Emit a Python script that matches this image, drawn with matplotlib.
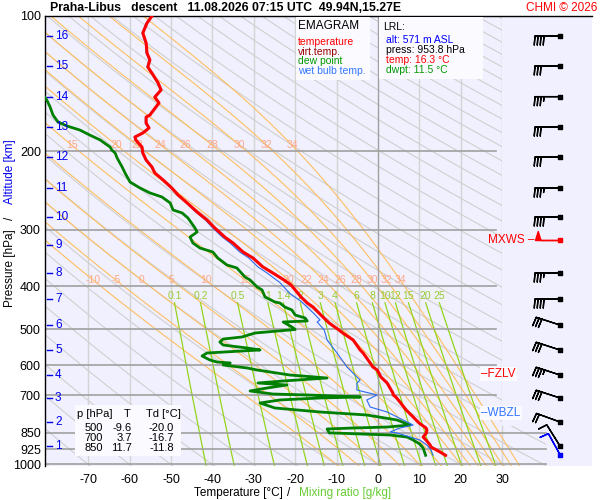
import numpy as np
import matplotlib
matplotlib.use('Agg')
import matplotlib.pyplot as plt
from matplotlib.patches import Polygon, Rectangle

plt.rcParams['font.family'] = ['Liberation Sans', 'DejaVu Sans']

# ---- sounding values ----
temp_p = [100.0, 103.7, 109.1, 114.9, 120.9, 125.3, 129.9, 135.4, 141.1, 146.2,
          151.6, 156.3, 166.3, 168.0, 173.3, 177.7, 182.3, 186.1, 189.0, 196.0,
          202.0, 209.5, 217.1, 223.9, 232.1, 241.8, 250.6, 261.1, 273.5, 285.0,
          297.0, 311.1, 320.8, 335.9, 346.4, 362.7, 374.1, 387.8, 397.9, 408.2,
          423.1, 436.4, 445.5, 469.0, 483.7, 500.0, 509.1, 527.7, 555.5, 564.1,
          606.2, 615.6, 638.1, 658.1, 692.7, 700.0, 707.1, 725.5, 755.9, 783.6,
          808.1, 829.1, 837.6, 850.0, 868.3, 881.9, 904.8, 914.1, 937.9, 953.8]
temp_t = [-54.6, -55.8, -56.8, -56.0, -55.8, -55.1, -55.6, -54.3, -53.1, -52.4,
          -53.9, -52.9, -55.1, -56.0, -56.0, -55.3, -56.8, -58.7, -58.5, -57.0,
          -56.8, -56.0, -54.6, -53.9, -51.9, -49.8, -48.3, -46.1, -43.7, -41.3,
          -39.4, -37.0, -35.0, -32.6, -30.2, -27.8, -25.4, -22.7, -21.0, -20.0,
          -18.6, -17.1, -15.7, -13.3, -11.8, -9.6, -8.5, -6.0, -4.3, -3.6,
          -1.2, -0.2, 0.7, 2.2, 3.6, 3.7, 4.3, 5.3, 6.8, 8.5,
          9.9, 11.6, 11.8, 11.7, 10.9, 11.6, 12.6, 12.8, 15.0, 16.3]

dewp_p = [146.0, 153.9, 159.6, 166.3, 172.3, 175.9, 179.6, 184.3, 189.0, 196.0,
          199.0, 202.0, 207.4, 217.1, 223.9, 234.5, 241.8, 248.0, 253.2, 261.1,
          270.7, 274.9, 282.1, 297.0, 303.1, 311.1, 320.8, 329.1, 335.9, 346.4,
          359.0, 364.6, 382.0, 387.8, 402.0, 408.2, 423.1, 434.2, 436.4, 445.5,
          452.4, 464.2, 471.4, 478.6, 481.1, 493.6, 500.0, 509.1, 519.7, 525.1,
          533.2, 541.5, 549.9, 555.5, 558.4, 564.1, 572.9, 584.8, 590.8, 593.9,
          600.0, 609.3, 615.6, 631.6, 641.4, 651.4, 658.1, 664.9, 675.2, 685.6,
          696.4, 700.0, 707.1, 710.7, 718.0, 729.3, 748.2, 763.7, 775.6, 795.7,
          816.6, 825.0, 829.1, 833.4, 850.0, 859.5, 868.3, 881.9, 900.2, 918.8,
          953.8]
dewp_t = [-82.0, -80.0, -79.2, -78.5, -77.3, -75.1, -72.0, -69.6, -67.1, -64.7,
          -64.3, -63.5, -63.0, -61.8, -61.1, -59.9, -57.5, -55.1, -52.2, -50.2,
          -49.5, -47.3, -45.9, -44.2, -43.7, -45.4, -44.7, -43.0, -39.9, -38.7,
          -36.5, -34.1, -32.1, -30.9, -29.2, -28.0, -27.3, -24.9, -23.7, -22.5,
          -20.8, -20.0, -17.6, -17.1, -22.9, -20.8, -20.0, -29.7, -32.9, -37.4,
          -38.2, -37.4, -31.6, -28.5, -32.9, -41.3, -42.5, -40.6, -38.9, -35.7,
          -37.4, -31.6, -29.2, -21.3, -12.3, -22.9, -29.0, -22.0, -26.8, -30.9,
          -25.4, -16.7, -4.3, -14.0, -23.7, -28.5, -24.9, -14.0, -2.7, 4.6,
          7.7, 2.2, -6.0, -12.3, -11.8, 2.9, 7.0, 8.5, 10.1, 10.9,
          11.5]

wetb_p = [100.0, 103.7, 109.1, 114.9, 120.9, 125.3, 129.9, 135.4, 141.1, 146.2,
          151.6, 156.3, 166.3, 168.0, 173.3, 177.7, 182.3, 186.1, 189.0, 196.0,
          202.0, 209.5, 217.1, 223.9, 232.1, 241.8, 250.6, 261.1, 273.5, 285.0,
          297.0, 311.1, 320.8, 335.9, 346.4, 362.7, 374.1, 393.0, 415.6, 431.0,
          458.6, 476.0, 481.0, 501.0, 527.7, 564.1, 606.2, 638.1, 648.0, 658.1,
          682.2, 699.9, 718.0, 744.4, 763.7, 816.6, 829.1, 846.3, 850.6, 881.9,
          904.8, 928.3, 953.8]
wetb_t = [-54.8, -56.0, -57.0, -56.2, -56.0, -55.3, -55.8, -54.5, -53.3, -52.6,
          -54.1, -53.1, -55.3, -56.2, -56.2, -55.5, -57.0, -58.9, -58.7, -57.2,
          -57.0, -56.2, -54.8, -54.1, -52.1, -50.0, -48.5, -46.3, -44.0, -41.7,
          -39.9, -37.6, -35.7, -33.4, -31.2, -29.0, -26.8, -23.7, -21.3, -18.8,
          -15.7, -14.0, -14.7, -13.0, -12.3, -9.9, -7.5, -5.1, -4.3, -5.1,
          -5.1, -0.2, -2.7, -1.9, 2.2, 8.5, 5.3, 2.9, 4.6, 10.1,
          11.8, 12.8, 13.3]

# altitude marks (km) and the pressure where they sit
alt_km = [16, 15, 14, 13, 12, 11, 10, 9, 8, 7, 6, 5, 4, 3, 2, 1]
alt_p = [110.8, 129.2, 151.3, 176.8, 206.3, 241.8, 280.6, 324.1, 374.1, 427.5,
         488.7, 555.5, 631.6, 710.7, 803.9, 909.5]

# winds
wind_p = [110.8, 129.2, 151.3, 176.8, 206.3, 241.8, 280.6, 374.1, 427.5,
          488.7, 555.5, 631.6, 710.7, 803.9, 909.5]
wind_dir = [270, 270, 270, 270, 270, 270, 270, 270, 270, 288, 288, 288, 288, 290, 328]
wind_kt = [40, 30, 35, 30, 30, 35, 40, 35, 40, 30, 30, 35, 30, 20, 10]
mxws_p, mxws_dir, mxws_kt = 316.0, 270, 50
sfc_p, sfc_dir, sfc_kt = 953.8, 331, 10

# diagram line families
isotherms = list(range(-70, 31, 10))
dry_theta_c = list(range(-80, 331, 10))
moist_tw = [-10, -5, 0, 5, 10, 15, 20, 22, 24, 26, 28, 30, 32, 34]
mix_ratio = [0.1, 0.2, 0.5, 1, 1.4, 2, 3, 4, 6, 8, 10, 12, 15, 20, 25]
p_ticks = [100, 200, 300, 400, 500, 600, 700, 850, 925, 1000]

table_p = ['500', '700', '850']
table_t = ['-9.6', '3.7', '11.7']
table_td = ['-20.0', '-16.7', '-11.8']

W, H = 600, 500


def fx(x):
    return x / W


def fy(y):
    return 1 - y / H


def es(tc):
    return 6.112 * np.exp(17.67 * tc / (tc + 243.5))


def td_from_w(w, p):
    e = w * p / (622.0 + w)
    a = np.log(e / 6.112)
    return 243.5 * a / (17.67 - a)


def dT_dlnp(p, T):
    Rd, cp, Lv, eps = 287.04, 1005.7, 2.501e6, 0.622
    e = es(T - 273.15)
    rs = eps * e / (p - e)
    return (Rd * T + Lv * rs) / (cp + Lv * Lv * rs * eps / (Rd * T * T))


def pseudo_adiabat(tw):
    lp = np.linspace(np.log(1010.0), np.log(100.0), 500)
    T0 = tw + 273.15
    T = T0 + dT_dlnp(1000.0, T0) * (np.log(1010.0) - np.log(1000.0))
    out = [T]
    for i in range(len(lp) - 1):
        h = lp[i + 1] - lp[i]
        p = np.exp(lp[i])
        k1 = dT_dlnp(p, T)
        k2 = dT_dlnp(np.exp(lp[i] + h), T + h * k1)
        T = T + 0.5 * h * (k1 + k2)
        out.append(T)
    return np.exp(lp), np.array(out) - 273.15


fig = plt.figure(figsize=(6, 5), dpi=100)
ax = fig.add_axes([fx(45), fy(466), (592 - 45) / W, (466 - 16) / H])
ax.set_facecolor('#f0f0fe')
ax.set_yscale('log')
T_left = (45 - 378) / 4.14
T_right = (592 - 378) / 4.14
p_bot = 100 * 10 ** (450 / 448.5)
ax.set_xlim(T_left, T_right)
ax.set_ylim(p_bot, 100)

clip = Polygon([(T_left - 1, 95), (30, 95), (30, 820), (40.6, 820), (40.6, 1020), (T_left - 1, 1020)],
               closed=True, transform=ax.transData)

bg = []
for t in isotherms:
    if t == 0:
        continue
    bg += ax.plot([t, t], [100, p_bot], color='#d4d4d4', lw=1.0, zorder=1)

pp = np.logspace(np.log10(100), np.log10(1010), 300)
for th in dry_theta_c:
    tt = (th + 273.15) * (pp / 1000.0) ** 0.2857 - 273.15
    bg += ax.plot(tt, pp, color='#d0d0d0', lw=0.8, zorder=1)

moist_lines = {}
for tw in moist_tw:
    mp, mt = pseudo_adiabat(tw)
    moist_lines[tw] = (mp, mt)
    bg += ax.plot(mt, mp, color='#ffbf60', lw=0.8, zorder=1.2)

pm = np.logspace(np.log10(436), np.log10(1010), 100)
for w in mix_ratio:
    bg += ax.plot(td_from_w(w, pm), pm, color='#94d51a', lw=0.9, zorder=1.3)

for ln in bg:
    ln.set_clip_path(clip)

ax.plot([0, 0], [100, p_bot], color='#a0a0a0', lw=1.0, zorder=1.5)
for p in p_ticks[1:]:
    right = 40.6 if p >= 850 else 28.4
    ax.plot([T_left, right], [p, p], color='#a0a0a0', lw=1.2, zorder=1.5)

# labels of moist adiabats and mixing ratio lines
for tw in moist_tw:
    mp, mt = moist_lines[tw]
    for pl in (388.0, 194.0):
        tl = np.interp(np.log(pl), np.log(mp[::-1]), mt[::-1])
        if tl > T_left + 3 and tl < 36:
            ax.text(tl, pl, str(tw), color='#ffa888', fontsize=7.5,
                    ha='center', va='center', zorder=2)
for w in mix_ratio:
    ax.text(td_from_w(w, 436.0), 420.0, '%g' % w, color='#99cc33', fontsize=7.5,
            ha='center', va='center', zorder=2)

# sounding curves
ax.plot(dewp_t, dewp_p, color='#008000', lw=2.0, zorder=3)
ax.plot(wetb_t, wetb_p, color='#2a6af0', lw=0.8, zorder=3.2)
ax.plot(temp_t, temp_p, color='#ff0000', lw=2.2, zorder=3.4)

# altitude marks
ytr = ax.get_yaxis_transform()
for km, p in zip(alt_km, alt_p):
    ax.plot([2 / 547, 7 / 547], [p, p], color='#0000ee', lw=1.0, transform=ytr, zorder=4)
    ax.text(10 / 547, p, str(km), color='#0000ee', fontsize=8.5, ha='left', va='center',
            transform=ytr, zorder=4)

# winds
xb = (560 - 378) / 4.14
wd = np.radians(wind_dir)
u = -np.array(wind_kt) * np.sin(wd)
v = -np.array(wind_kt) * np.cos(wd)
bsz = dict(height=0.36, spacing=0.12, width=0.06, emptybarb=0.0)
psz = dict(height=0.36, spacing=0.12, width=0.22, emptybarb=0.0)
blen = 6.0
ax.barbs(np.full(len(wind_p), xb), wind_p, u, v, length=blen, sizes=bsz, flip_barb=True,
         lw=1.0, color='black', zorder=5)
ax.scatter(np.full(len(wind_p), xb), wind_p, marker='s', s=6, color='black', zorder=5)
md = np.radians(mxws_dir)
ax.barbs([xb], [mxws_p], [-mxws_kt * np.sin(md)], [-mxws_kt * np.cos(md)], length=blen,
         sizes=psz, flip_barb=False, lw=1.0, color='#ff0000', zorder=5)
ax.scatter([xb], [mxws_p], marker='s', s=6, color='#ff0000', zorder=5)
sd = np.radians(sfc_dir)
ax.barbs([xb], [sfc_p], [-sfc_kt * np.sin(sd)], [-sfc_kt * np.cos(sd)], length=blen,
         sizes=bsz, flip_barb=True, lw=1.0, color='#0000ff', zorder=5)
ax.scatter([xb], [sfc_p], marker='s', s=6, color='#0000ff', zorder=5)

# axes cosmetics
for s in ('right', 'bottom'):
    ax.spines[s].set_visible(False)
ax.spines['left'].set_linewidth(1.0)
ax.spines['top'].set_linewidth(1.0)
ax.set_yticks(p_ticks)
ax.set_yticklabels([str(p) for p in p_ticks])
ax.yaxis.set_minor_locator(matplotlib.ticker.NullLocator())
ax.set_xticks(isotherms)
ax.set_xticklabels([str(t) for t in isotherms])
ax.tick_params(axis='both', length=0, labelsize=9)
ax.tick_params(axis='x', pad=6)
ax.tick_params(axis='y', pad=3)

# boxes
def box(x0, y0, x1, y1, color='#fafaff', z=2.6):
    ax.add_patch(Rectangle((fx(x0), fy(y1)), (x1 - x0) / W, (y1 - y0) / H,
                           transform=fig.transFigure, facecolor=color,
                           edgecolor='none', zorder=z))

box(296, 17, 370, 80)
box(379, 17, 483, 79)
box(75, 405, 181, 456)

fig.text(fx(298), fy(26), 'EMAGRAM', fontsize=8.5, va='center')
fig.text(fx(298), fy(42), 'temperature', fontsize=7.5, color='#ff0000', va='center')
fig.text(fx(298), fy(52), 'virt.temp.', fontsize=7.5, color='#990000', va='center')
fig.text(fx(298), fy(61), 'dew point', fontsize=7.5, color='#009900', va='center')
fig.text(fx(298), fy(71), 'wet bulb temp.', fontsize=7.5, color='#3377ff', va='center')

fig.text(fx(383), fy(27), 'LRL:', fontsize=7.5, va='center')
fig.text(fx(386), fy(40), 'alt: 571 m ASL', fontsize=7.5, color='#0000ff', va='center')
fig.text(fx(386), fy(50), 'press: 953.8 hPa', fontsize=7.5, color='black', va='center')
fig.text(fx(386), fy(60), 'temp: 16.3 °C', fontsize=7.5, color='#ff0000', va='center')
fig.text(fx(386), fy(70), 'dwpt: 11.5 °C', fontsize=7.5, color='#009900', va='center')

fig.text(fx(95), fy(414), 'p [hPa]', fontsize=8, ha='center', va='center')
fig.text(fx(127), fy(414), 'T', fontsize=8, ha='center', va='center')
fig.text(fx(163), fy(414), 'Td [°C]', fontsize=8, ha='center', va='center')
for i in range(3):
    yy = 428 + 10 * i
    fig.text(fx(94), fy(yy), table_p[i], fontsize=8, ha='center', va='center')
    fig.text(fx(132), fy(yy), table_t[i], fontsize=8, ha='right', va='center')
    fig.text(fx(174), fy(yy), table_td[i], fontsize=8, ha='right', va='center')

lb = dict(facecolor='#fafaff', edgecolor='none', pad=1.0)
fig.text(fx(481), fy(374), '–FZLV', fontsize=8.5, color='#ff0000', va='center', bbox=lb)
fig.text(fx(481), fy(413), '–WBZL', fontsize=8.5, color='#3377ff', va='center', bbox=lb)
fig.text(fx(534), fy(240), 'MXWS –', fontsize=8.5, color='#ff0000', ha='right', va='center')

fig.text(fx(50), fy(8), 'Praha-Libus   descent   11.08.2026 07:15 UTC  49.94N,15.27E',
         fontsize=8.8, fontweight='bold', va='center')
fig.text(fx(597), fy(8), 'CHMI © 2026', fontsize=8.5, color='#ff0000', ha='right', va='center')

fig.text(fx(10), fy(268), 'Pressure [hPa]', fontsize=8.5, rotation=90, ha='center', va='center')
fig.text(fx(10), fy(218), '/', fontsize=8.5, rotation=90, ha='center', va='center')
fig.text(fx(10), fy(172), 'Altitude [km]', fontsize=8.5, rotation=90, ha='center',
         va='center', color='#0000ee')
fig.text(fx(238), fy(493), 'Temperature [°C]', fontsize=8.5, ha='center', va='center')
fig.text(fx(289), fy(493), '/', fontsize=8.5, ha='center', va='center')
fig.text(fx(345), fy(493), 'Mixing ratio [g/kg]', fontsize=8.5, ha='center', va='center',
         color='#66cc33')

fig.savefig('out.png', dpi=100)
